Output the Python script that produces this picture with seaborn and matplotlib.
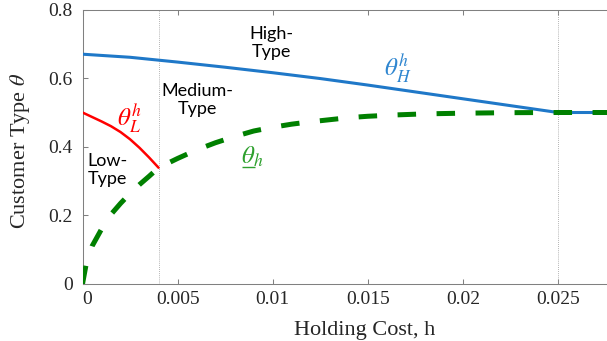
import numpy as np
import pandas as pd
import matplotlib
matplotlib.use("Agg")
import matplotlib.pyplot as plt
import matplotlib.transforms as mtransforms
import seaborn as sns

# Upper threshold theta_H^h versus holding cost h
h_high = [0.0, 0.0025, 0.005, 0.0075, 0.01, 0.0125, 0.015, 0.0175, 0.02, 0.0225, 0.025, 0.028]
theta_high = [0.670, 0.661, 0.647, 0.632, 0.616, 0.599, 0.580, 0.560, 0.540, 0.520, 0.500, 0.500]

# Lower threshold theta_L^h (only defined below the first cutoff)
h_low = [0.0, 0.0005, 0.001, 0.0015, 0.002, 0.0025, 0.003, 0.0035, 0.004]
theta_low = [0.500, 0.487, 0.474, 0.460, 0.443, 0.422, 0.397, 0.369, 0.339]

# Minimum type underline-theta_h
h_min = [0.0, 0.0002, 0.0005, 0.001, 0.0015, 0.002, 0.0025, 0.003, 0.0035, 0.004,
         0.005, 0.006, 0.007, 0.008, 0.009, 0.010, 0.011, 0.012, 0.013, 0.014,
         0.015, 0.0165, 0.018, 0.020, 0.0225, 0.025, 0.028]
theta_min = [0.0, 0.06, 0.11, 0.16, 0.203, 0.235, 0.264, 0.290, 0.314, 0.339,
             0.366, 0.391, 0.412, 0.430, 0.446, 0.457, 0.466, 0.473, 0.479, 0.485,
             0.489, 0.493, 0.496, 0.498, 0.4995, 0.500, 0.500]

# Regime boundaries (vertical dotted lines)
cutoffs = [0.004, 0.025]

# Axis ticks
x_ticks = [0, 0.005, 0.01, 0.015, 0.02, 0.025]
x_tick_labels = ["0", "0.005", "0.01", "0.015", "0.02", "0.025"]
y_ticks = [0, 0.2, 0.4, 0.6, 0.8]
y_tick_labels = ["0", "0.2", "0.4", "0.6", "0.8"]

# Region labels: text, h, theta
region_text = ["High-\nType", "Medium-\nType", "Low-\nType"]
region_h = [0.00992, 0.00604, 0.00133]
region_theta = [0.703, 0.536, 0.332]

BLUE = "#1f78c8"
RED = "#ff0000"
GREEN = "#008000"
AXIS_GRAY = "#808080"
TEXT_GRAY = "#262626"

sns.set_theme(style="white")
plt.rcParams["font.family"] = ["Liberation Serif", "DejaVu Serif"]
plt.rcParams["mathtext.fontset"] = "stix"

fig = plt.figure(figsize=(6.07, 3.41), dpi=100)
ax = fig.add_axes([82.5 / 607, 1 - 284 / 341, 532.5 / 607, 274.4 / 341])

df_high = pd.DataFrame({"h": h_high, "theta": theta_high})
df_low = pd.DataFrame({"h": h_low, "theta": theta_low})
df_min = pd.DataFrame({"h": h_min, "theta": theta_min})

for c in cutoffs:
    ax.axvline(c, color="#9a9a9a", lw=0.6, ls=(0, (1, 1.5)), zorder=1)

sns.lineplot(data=df_high, x="h", y="theta", ax=ax, color=BLUE, lw=2.2,
             errorbar=None, sort=True, zorder=3)
sns.lineplot(data=df_low, x="h", y="theta", ax=ax, color=RED, lw=1.8,
             errorbar=None, sort=True, zorder=4)
sns.lineplot(data=df_min, x="h", y="theta", ax=ax, color=GREEN, lw=3.6,
             errorbar=None, sort=True, zorder=5)
green_line = ax.lines[-1]
green_line.set_linestyle((0, (3.7, 4.1)))
green_line.set_dash_capstyle("butt")

ax.set_xlim(0, 0.028)
ax.set_ylim(0, 0.8)
ax.set_xticks(x_ticks)
ax.set_xticklabels(x_tick_labels)
ax.set_yticks(y_ticks)
ax.set_yticklabels(y_tick_labels)

ax.tick_params(axis="both", which="major", direction="in", length=3.6, width=0.75,
               color=AXIS_GRAY, labelsize=14, labelcolor=TEXT_GRAY,
               top=True, right=True, bottom=True, left=True)
ax.tick_params(axis="y", pad=7.0)
ax.tick_params(axis="x", pad=5.0)
ax.get_xticklabels()[0].set_horizontalalignment("left")

for s in ax.spines.values():
    s.set_color(AXIS_GRAY)
    s.set_linewidth(0.75)
    s.set_visible(True)

ax.set_xlabel("Holding Cost, h", fontsize=16, color=TEXT_GRAY)
ax.set_ylabel(r"Customer Type $\theta$", fontsize=16, color=TEXT_GRAY)
ax.xaxis.set_label_coords(0.53, -0.135)
ax.yaxis.set_label_coords(-0.095, 0.485)

for t, hx, ty in zip(region_text, region_h, region_theta):
    ax.text(hx, ty, t, ha="center", va="center", fontsize=13, color="black",
            family=["Lato", "DejaVu Sans"], linespacing=1.15, zorder=6)

ax.text(0.00246, 0.481, r"$\theta_L^h$", color=RED, fontsize=18,
        ha="center", va="center", zorder=6)
ax.text(0.01656, 0.627, r"$\theta_H^h$", color="#2f86d0", fontsize=18,
        ha="center", va="center", zorder=6)

lbl_h, lbl_t = 0.00893, 0.370
ax.text(lbl_h, lbl_t, r"$\theta_h$", color="#2ea02e", fontsize=18,
        ha="center", va="center", zorder=6)
# underline beneath the theta glyph
ul = mtransforms.offset_copy(ax.transData, fig=fig, x=0, y=-6.8, units="points")
ax.plot([lbl_h - 0.00052, lbl_h + 0.00012], [lbl_t, lbl_t], color="#2ea02e",
        lw=1.0, transform=ul, zorder=6, solid_capstyle="butt")

fig.savefig("out.png", dpi=100)
